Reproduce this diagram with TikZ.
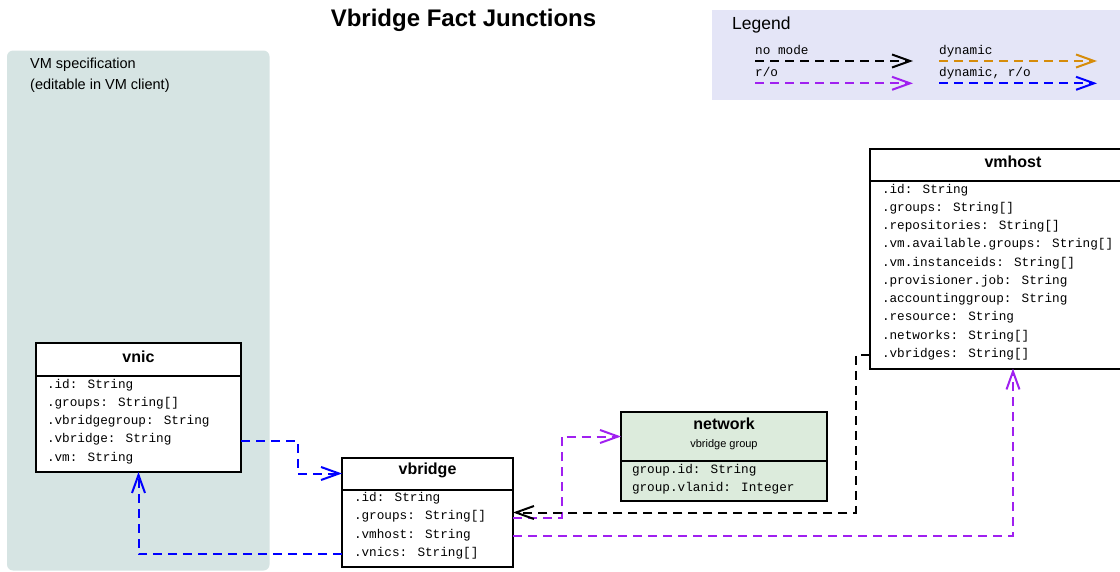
\documentclass[tikz,border=0pt]{standalone}
\usepackage{fontspec}
\setmainfont{Liberation Sans}
\newfontfamily\monof{Liberation Mono}
\usetikzlibrary{arrows.meta}
\definecolor{legbg}{RGB}{228,229,247}
\definecolor{vmbg}{RGB}{214,228,227}
\definecolor{netbg}{RGB}{220,235,220}
\definecolor{cpurple}{RGB}{160,32,240}
\definecolor{corange}{RGB}{214,140,10}
\definecolor{cblue}{RGB}{0,0,255}
\tikzset{
  boxpart/.style={draw, line width=2pt, fill=white, anchor=north west, inner sep=0pt, outer sep=0pt},
  attr/.style={anchor=base west, inner sep=0pt, outer sep=0pt, font=\monof\fontsize{12.7}{14}\selectfont, text height=8pt, text depth=4pt},
  ttl/.style={anchor=base, inner sep=0pt, font=\bfseries\fontsize{16}{18}\selectfont},
  conn/.style={line width=2pt, dash pattern=on 9pt off 6pt, -{Straight Barb[length=18pt,width=13pt]}},
  legtxt/.style={anchor=base west, inner sep=0pt, font=\monof\fontsize{12.7}{14}\selectfont},
  note/.style={anchor=base west, inner sep=0pt, font=\fontsize{14.5}{17}\selectfont}
}
\begin{document}
\begin{tikzpicture}[x=1pt,y=-1pt]
\useasboundingbox (0,0) rectangle (1120,571);
\clip (0,0) rectangle (1120,571);

% title
\node[anchor=base, inner sep=0pt, font=\bfseries\fontsize{24}{27}\selectfont] (title) at (463.5,26) {Vbridge Fact Junctions};

% legend
\fill[legbg] (712,10) rectangle (1130,100);
\node[anchor=base west, inner sep=0pt, font=\fontsize{17.5}{20}\selectfont] (legtitle) at (732,29.3) {Legend};
\node[legtxt] (lgA) at (755,54.5) {no mode};
\node[legtxt] (lgB) at (755,76.5) {r/o};
\node[legtxt] (lgC) at (939,54.5) {dynamic};
\node[legtxt] (lgD) at (939,76.5) {dynamic, r/o};
\coordinate (lgAs) at (755,61);   \coordinate (lgAe) at (913,61);
\coordinate (lgBs) at (755,83.3); \coordinate (lgBe) at (913,83.3);
\coordinate (lgCs) at (939,61);   \coordinate (lgCe) at (1097,61);
\coordinate (lgDs) at (939,83.3); \coordinate (lgDe) at (1097,83.3);
\draw[conn, black] (lgAs) -- (lgAe);
\draw[conn, cpurple] (lgBs) -- (lgBe);
\draw[conn, corange] (lgCs) -- (lgCe);
\draw[conn, cblue] (lgDs) -- (lgDe);

% VM specification area
\fill[vmbg, rounded corners=6pt] (7,50.5) rectangle (269.5,570.5);
\node[note] (vmspec1) at (30,68.3) {VM specification};
\node[note] (vmspec2) at (30,89) {(editable in VM client)};

% vnic
\node[boxpart, minimum width=205pt, minimum height=33pt] (vnic-h) at (36,343) {};
\node[boxpart, minimum width=205pt, minimum height=96pt] (vnic) at (vnic-h.south west) {};
\node[ttl] (vnic-t) at (138.5,362) {vnic};
\foreach \attrtxt [count=\i] in {.id: String, .groups: String[], .vbridgegroup: String, .vbridge: String, .vm: String}
  \node[attr] (vnic-a\i) at (47,369.7+18.3*\i) {\attrtxt};

% vbridge
\node[boxpart, minimum width=171pt, minimum height=32pt] (vbridge-h) at (342,457.5) {};
\node[boxpart, minimum width=171pt, minimum height=77.5pt] (vbridge) at (vbridge-h.south west) {};
\node[ttl] (vbridge-t) at (427.5,474) {vbridge};
\foreach \attrtxt [count=\i] in {.id: String, .groups: String[], .vmhost: String, .vnics: String[]}
  \node[attr] (vbridge-a\i) at (354,483.2+18.3*\i) {\attrtxt};

% network
\node[boxpart, fill=netbg, minimum width=206pt, minimum height=49pt] (network-h) at (621,412) {};
\node[boxpart, fill=netbg, minimum width=206pt, minimum height=39.5pt] (network) at (network-h.south west) {};
\node[ttl] (network-t) at (724,429) {network};
\node[anchor=base, inner sep=0pt, font=\fontsize{11}{13}\selectfont] (network-s) at (724,447.5) {vbridge group};
\foreach \attrtxt [count=\i] in {group.id: String, group.vlanid: Integer}
  \node[attr] (network-a\i) at (632,454.7+18.3*\i) {\attrtxt};

% vmhost
\node[boxpart, minimum width=286pt, minimum height=32pt] (vmhost-h) at (870,149) {};
\node[boxpart, minimum width=286pt, minimum height=187.5pt] (vmhost) at (vmhost-h.south west) {};
\node[ttl] (vmhost-t) at (1013,167) {vmhost};
\foreach \attrtxt [count=\i] in {.id: String, .groups: String[], .repositories: String[], .vm.available.groups: String[], .vm.instanceids: String[], .provisioner.job: String, .accountinggroup: String, .resource: String, .networks: String[], .vbridges: String[]}
  \node[attr] (vmhost-a\i) at (882,174.75+18.25*\i) {\attrtxt};

% connectors
\coordinate (j1) at (298,0);
\coordinate (j3) at (561.5,0);
\coordinate (j4) at (855.5,512.5);
\draw[conn, cblue] (vnic.east |- vnic-a4) -| (j1 |- vbridge-h.west) -- (vbridge-h.west);
\draw[conn, cblue] (vbridge.west |- vbridge-a4) -| (vnic.south);
\draw[conn, cpurple] (vbridge.east |- vbridge-a2) -| (j3 |- network-h.west) -- (network-h.west);
\draw[conn, black] (vmhost.west |- vmhost-a10) -| (j4) -- (vbridge.east |- j4);
\draw[conn, cpurple] (vbridge.east |- vbridge-a3) -| (vmhost.south);
\end{tikzpicture}
\end{document}
